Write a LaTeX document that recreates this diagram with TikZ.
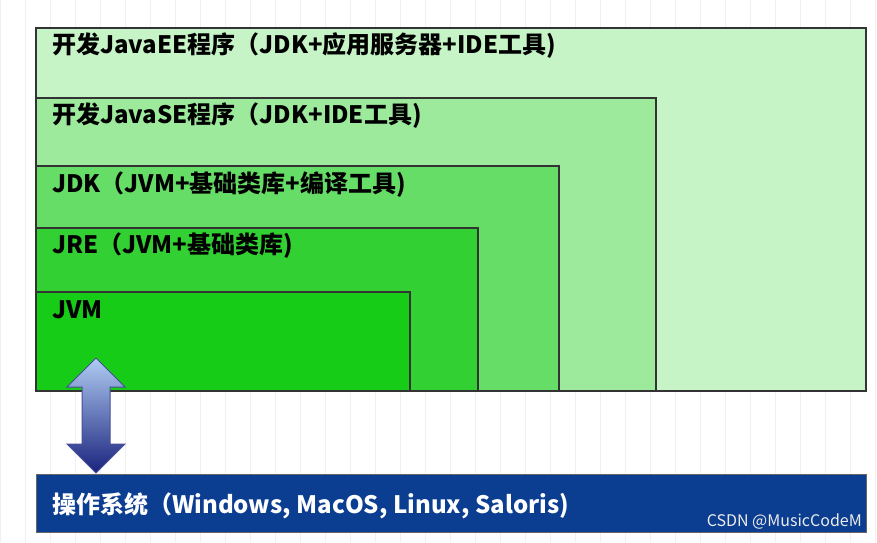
\documentclass[tikz,border=0pt]{standalone}
\usepackage{fontspec}
\setmainfont{Noto Sans CJK SC}
\definecolor{cee}{HTML}{C6F4C6}
\definecolor{cse}{HTML}{9DEA9D}
\definecolor{cjdk}{HTML}{66DD66}
\definecolor{cjre}{HTML}{33D033}
\definecolor{cjvm}{HTML}{16CC16}
\definecolor{osblue}{HTML}{0B3D91}
\definecolor{alight}{HTML}{B0CCF2}
\definecolor{adark}{HTML}{1A237E}
\begin{document}
\begin{tikzpicture}[x=1pt,y=-1pt,
  layer/.style={draw=black!80,line width=1.6pt},
  lbl/.style={anchor=west,font=\fontsize{24}{28}\selectfont\bfseries,inner sep=0pt}]
\useasboundingbox (0,0) rectangle (877,542);
\fill[white] (0,0) rectangle (877,542);
\draw[black!6,line width=0.5pt] (0,0) grid[step=25] (877,542);
\draw[layer,fill=cee] (36,28) rectangle (866,391);
\draw[layer,fill=cse] (36,98) rectangle (656,391);
\draw[layer,fill=cjdk] (36,166) rectangle (559,391);
\draw[layer,fill=cjre] (36,228) rectangle (478,391);
\draw[layer,fill=cjvm] (36,292) rectangle (410,391);
\node[lbl] (tee) at (52,46) {开发JavaEE程序（JDK+应用服务器+IDE工具)};
\node[lbl] (tse) at (52,116) {开发JavaSE程序（JDK+IDE工具)};
\node[lbl] (tjdk) at (52,185) {JDK（JVM+基础类库+编译工具)};
\node[lbl] (tjre) at (52,246) {JRE（JVM+基础类库)};
\node[lbl] (tjvm) at (52,310) {JVM};
\draw[draw=black!60,fill=osblue] (36,474) rectangle (866,532);
\node[lbl,text=white] (tos) at (52,506) {操作系统（Windows, MacOS, Linux, Saloris)};
\shade[top color=alight,bottom color=adark,draw=adark!80,line width=1pt]
 (96,358) -- (125,387) -- (110,387) -- (110,444) -- (125,444) -- (96,473)
 -- (67,444) -- (82,444) -- (82,387) -- (67,387) -- cycle;
\node[anchor=east,text=white!85!gray,font=\fontsize{16}{18}\selectfont,inner sep=0pt] (wm) at (862,522) {CSDN @MusicCodeM};
\end{tikzpicture}
\end{document}
